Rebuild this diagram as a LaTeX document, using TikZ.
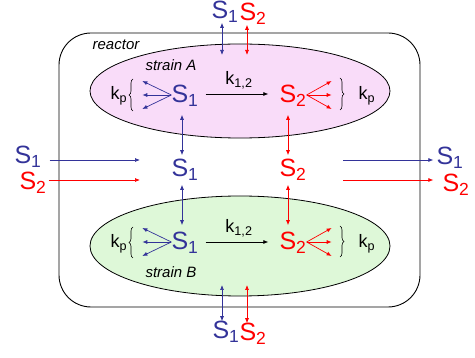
\documentclass[tikz,border=0pt]{standalone}
\usepackage{fontspec}
\setmainfont{Liberation Sans}
\usetikzlibrary{
  arrows.meta, positioning, shapes.geometric,
  decorations.pathreplacing, calc
}
\definecolor{subone}{HTML}{333399}
\definecolor{subtwo}{HTML}{FF0000}
\definecolor{strainpink}{HTML}{F9DCF9}
\definecolor{straingreen}{HTML}{DEF8D8}

\begin{document}
\begin{tikzpicture}[x=1pt, y=-1pt,
  flow/.style={-{Latex[length=5pt,width=4pt]}, line width=0.7pt},
  both/.style={{Latex[length=5pt,width=4pt]}-{Latex[length=5pt,width=4pt]}, line width=0.7pt},
  species/.style={font=\fontsize{25}{28}\selectfont, inner sep=0pt},
  rate/.style={font=\fontsize{18}{21}\selectfont, inner sep=1pt},
  tag/.style={font=\fontsize{15}{18}\selectfont\itshape},
  strain/.style={ellipse, draw, line width=0.8pt, minimum width=300pt},
  kbrace/.style={decorate, decoration={brace, amplitude=4pt}, line width=0.6pt}]
  \useasboundingbox (0,0) rectangle (475,358);

  % reactor and the two strains
  \node[draw, line width=0.9pt, rounded corners=32pt,
        minimum width=361pt, minimum height=274pt] (reactor) at (239.5,170) {};
  \node[tag] (reactorlbl) at (116,45) {reactor};
  \node[strain, fill=strainpink, minimum height=94pt] (strainA) at (240,91) {};
  \node[strain, fill=straingreen, minimum height=100pt] (strainB) at (240,246) {};
  \node[tag] (strainAlbl) at (171,65) {strain A};
  \node[tag] (strainBlbl) at (171,272) {strain B};

  % substrates
  \node[species, subone] (s1a) at (185,96) {S\textsubscript{1}};
  \node[species, subtwo] (s2a) at (293,96) {S\textsubscript{2}};
  \node[species, subone] (s1m) at (185,170) {S\textsubscript{1}};
  \node[species, subtwo] (s2m) at (293,170) {S\textsubscript{2}};
  \node[species, subone] (s1b) at (185,243) {S\textsubscript{1}};
  \node[species, subtwo] (s2b) at (293,243) {S\textsubscript{2}};

  \node[species, subone] (topS1) at (225,12) {S\textsubscript{1}};
  \node[species, subtwo] (topS2) at (253,14) {S\textsubscript{2}};
  \node[species, subone] (botS1) at (226,332) {S\textsubscript{1}};
  \node[species, subtwo] (botS2) at (253,334) {S\textsubscript{2}};
  \node[species, subone] (inS1) at (28,157) {S\textsubscript{1}};
  \node[species, subtwo] (inS2) at (33,183) {S\textsubscript{2}};
  \node[species, subone] (outS1) at (450,158) {S\textsubscript{1}};
  \node[species, subtwo] (outS2) at (456,185) {S\textsubscript{2}};

  % ends of the feed and drain lines
  \coordinate (feedS1) at (140,160);
  \coordinate (feedS2) at (140,180);
  \coordinate (drainS1) at (343,160);
  \coordinate (drainS2) at (343,180);
  \coordinate (topS1in) at (222,55);
  \coordinate (topS2in) at (247,55);
  \coordinate (botS1in) at (222,285);
  \coordinate (botS2in) at (247,285);

  % feed and drain
  \draw[flow, subone, shorten <=8pt] (inS1.east |- feedS1) -- (feedS1);
  \draw[flow, subtwo, shorten <=2pt] (inS2.east |- feedS2) -- (feedS2);
  \draw[flow, subone, shorten >=3pt] (drainS1) -- (outS1.west |- drainS1);
  \draw[flow, subtwo, shorten >=9pt] (drainS2) -- (outS2.west |- drainS2);

  % exchange through the wall
  \draw[both, subone] (topS1.south -| topS1in) -- (topS1in);
  \draw[both, subtwo] (topS2.south -| topS2in) -- (topS2in);
  \draw[both, subone] (botS1in) -- (botS1.north -| botS1in);
  \draw[both, subtwo] (botS2in) -- (botS2.north -| botS2in);

  % exchange with the medium
  \draw[both, subone, shorten <=8pt, shorten >=4pt] ([xshift=-3pt]s1a.south) -- ([xshift=-3pt]s1m.north);
  \draw[both, subone, shorten <=4pt, shorten >=7pt] ([xshift=-3pt]s1m.south) -- ([xshift=-3pt]s1b.north);
  \draw[both, subtwo, shorten <=8pt, shorten >=4pt] ([xshift=-5pt]s2a.south) -- ([xshift=-5pt]s2m.north);
  \draw[both, subtwo, shorten <=4pt, shorten >=7pt] ([xshift=-5pt]s2m.south) -- ([xshift=-5pt]s2b.north);

  % conversion S1 -> S2
  \draw[flow, shorten <=7pt, shorten >=11pt] ([yshift=2pt]s1a.east) --
    node[rate, above=4pt] (k12a) {k\textsubscript{1,2}} ([yshift=2pt]s2a.west);
  \draw[flow, shorten <=7pt, shorten >=11pt] ([yshift=1pt]s1b.east) --
    node[rate, above=4pt] (k12b) {k\textsubscript{1,2}} ([yshift=1pt]s2b.west);

  % product fans
  \foreach \src/\dir in {s1a/-29, s1b/-29}
    \foreach \dy in {-14,0,14}
      \draw[flow, subone] ([yshift=1pt]\src.west) -- ++(\dir,\dy);
  \foreach \src/\dir in {s2a/25, s2b/25}
    \foreach \dy in {-14,0,14}
      \draw[flow, subtwo] ([yshift=1pt]\src.east) -- ++(\dir,\dy);

  % braces
  \draw[kbrace] (133,111) -- (133,79);
  \draw[kbrace] (340,78) -- (340,110);
  \draw[kbrace] (133,258) -- (133,227);
  \draw[kbrace] (340,226) -- (340,257);
  \node[rate] (kpA1) at (119,96) {k\textsubscript{p}};
  \node[rate] (kpA2) at (367,96) {k\textsubscript{p}};
  \node[rate] (kpB1) at (119,244) {k\textsubscript{p}};
  \node[rate] (kpB2) at (367,244) {k\textsubscript{p}};
\end{tikzpicture}
\end{document}
